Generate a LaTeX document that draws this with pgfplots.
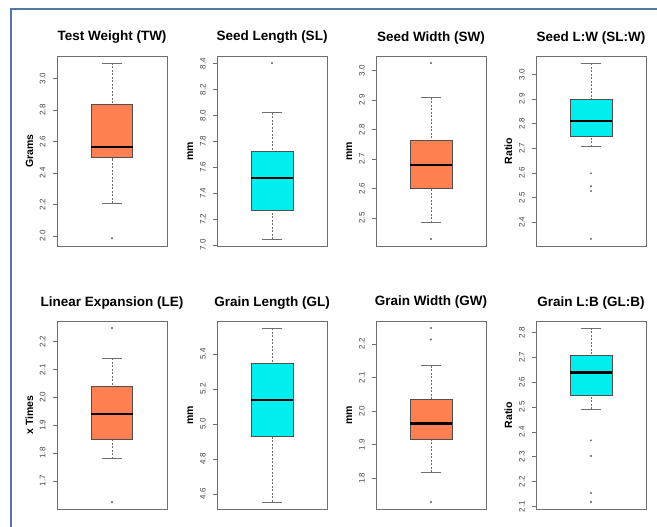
\documentclass[border=0pt]{standalone}
\usepackage{fontspec}
\setmainfont{Liberation Sans}
\usepackage{pgfplots}
\pgfplotsset{compat=1.18}
\usepgfplotslibrary{statistics}
\definecolor{coralbox}{HTML}{FF7F50}
\definecolor{cyanbox}{HTML}{00EEEE}
\definecolor{framegray}{HTML}{6E6E6E}
\definecolor{boxedge}{HTML}{505050}
\definecolor{bordblue}{HTML}{4F77A8}
\definecolor{ticktext}{HTML}{444444}

\pgfplotsset{
  panel/.style={
    scale only axis, width=110pt, height=190pt,
    xmin=0.5, xmax=1.5, xtick=\empty,
    axis line style={framegray, line width=0.9pt},
    tick align=outside, major tick length=4pt, ytick pos=left,
    ytick style={framegray, line width=0.7pt},
    /pgf/number format/assume math mode=true,
    yticklabel style={rotate=90, anchor=base, inner sep=0pt,
      font=\fontsize{8}{9}\selectfont, text=ticktext,
      /pgf/number format/fixed, /pgf/number format/fixed zerofill,
      /pgf/number format/precision=1},
    yticklabel shift=7.5pt,
    title style={at={(axis description cs:0.5,1)}, anchor=base, yshift=9pt,
      font=\bfseries\fontsize{13.5}{15}\selectfont},
    ylabel style={at={(axis description cs:-0.218,0.5)}, anchor=base,
      font=\bfseries\fontsize{10.5}{12}\selectfont},
  },
  bx/.style={
    framegray, mark=*, mark size=0.8pt, mark options={fill=framegray, draw=framegray},
    boxplot/draw direction=y,
    boxplot/draw position=1, boxplot/box extend=0.38, boxplot/whisker extend=0.19,
    boxplot/every box/.style={draw=boxedge, fill=#1, line width=0.8pt},
    boxplot/every median/.style={draw=black, line width=2.3pt},
    boxplot/every whisker/.style={draw=framegray, line width=0.75pt},
    boxplot/draw/lower whisker/.code={%
      \draw[/pgfplots/boxplot/every whisker/.try, dash pattern=on 2pt off 1.5pt]
        (boxplot box cs:\pgfplotsboxplotvalue{lower whisker},0.5) --
        (boxplot box cs:\pgfplotsboxplotvalue{lower quartile},0.5);
      \draw[/pgfplots/boxplot/every whisker/.try]
        (boxplot whisker cs:\pgfplotsboxplotvalue{lower whisker},0) --
        (boxplot whisker cs:\pgfplotsboxplotvalue{lower whisker},1);
    },
    boxplot/draw/upper whisker/.code={%
      \draw[/pgfplots/boxplot/every whisker/.try, dash pattern=on 2pt off 1.5pt]
        (boxplot box cs:\pgfplotsboxplotvalue{upper whisker},0.5) --
        (boxplot box cs:\pgfplotsboxplotvalue{upper quartile},0.5);
      \draw[/pgfplots/boxplot/every whisker/.try]
        (boxplot whisker cs:\pgfplotsboxplotvalue{upper whisker},0) --
        (boxplot whisker cs:\pgfplotsboxplotvalue{upper whisker},1);
    },
  },
}

\begin{document}
\begin{tikzpicture}[x=1pt,y=1pt]
\useasboundingbox[fill=white] (0,0) rectangle (657,-527);
\draw[bordblue, line width=2pt] (11,-527) -- (11,-9) -- (657,-9);

% Row 1
\begin{axis}[panel, at={(57pt,-246pt)}, anchor=south west,
  ymin=1.936, ymax=3.144, ytick={2.0,2.2,...,3.01},
  title={Test Weight (TW)}, ylabel={Grams}]
\addplot[bx=coralbox, boxplot prepared={lower whisker=2.208, lower quartile=2.498,
  median=2.566, upper quartile=2.839, upper whisker=3.100}]
  table[row sep=\\, y index=0] {v\\ 1.985\\};
\end{axis}

\begin{axis}[panel, at={(217pt,-246pt)}, anchor=south west,
  ymin=6.993, ymax=8.459, ytick={7.0,7.2,...,8.41},
  title={Seed Length (SL)}, ylabel={mm}]
\addplot[bx=cyanbox, boxplot prepared={lower whisker=7.047, lower quartile=7.268,
  median=7.518, upper quartile=7.722, upper whisker=8.021}]
  table[row sep=\\, y index=0] {v\\ 8.405\\};
\end{axis}

\begin{axis}[panel, at={(376pt,-246pt)}, anchor=south west,
  ymin=2.405, ymax=3.049, ytick={2.5,2.6,...,3.01},
  title={Seed Width (SW)}, ylabel={mm}]
\addplot[bx=coralbox, boxplot prepared={lower whisker=2.484, lower quartile=2.601,
  median=2.679, upper quartile=2.762, upper whisker=2.908}]
  table[row sep=\\, y index=0] {v\\ 3.025\\ 2.429\\};
\end{axis}

\begin{axis}[panel, at={(536pt,-246pt)}, anchor=south west,
  ymin=2.303, ymax=3.075, ytick={2.4,2.5,...,3.01},
  title={Seed L:W (SL:W)}, ylabel={Ratio}]
\addplot[bx=cyanbox, boxplot prepared={lower whisker=2.706, lower quartile=2.748,
  median=2.810, upper quartile=2.897, upper whisker=3.046}]
  table[row sep=\\, y index=0] {v\\ 2.598\\ 2.546\\ 2.526\\ 2.332\\};
\end{axis}

% Row 2
\begin{axis}[panel, height=188pt, at={(57pt,-509pt)}, anchor=south west,
  ymin=1.599, ymax=2.274, ytick={1.7,1.8,...,2.21},
  title={Linear Expansion (LE)}, ylabel={x Times}]
\addplot[bx=coralbox, boxplot prepared={lower whisker=1.780, lower quartile=1.850,
  median=1.941, upper quartile=2.038, upper whisker=2.140}]
  table[row sep=\\, y index=0] {v\\ 2.249\\ 1.624\\};
\end{axis}

\begin{axis}[panel, height=188pt, at={(217pt,-509pt)}, anchor=south west,
  ymin=4.515, ymax=5.588, ytick={4.6,4.8,...,5.41},
  title={Grain Length (GL)}, ylabel={mm}]
\addplot[bx=cyanbox, boxplot prepared={lower whisker=4.555, lower quartile=4.931,
  median=5.139, upper quartile=5.347, upper whisker=5.548}]
  coordinates {};
\end{axis}

\begin{axis}[panel, height=188pt, at={(376pt,-509pt)}, anchor=south west,
  ymin=1.709, ymax=2.268, ytick={1.8,1.9,...,2.21},
  title={Grain Width (GW)}, ylabel={mm}]
\addplot[bx=coralbox, boxplot prepared={lower whisker=1.819, lower quartile=1.917,
  median=1.963, upper quartile=2.034, upper whisker=2.135}]
  table[row sep=\\, y index=0] {v\\ 2.247\\ 2.213\\ 1.730\\};
\end{axis}

\begin{axis}[panel, height=188pt, at={(536pt,-509pt)}, anchor=south west,
  ymin=2.090, ymax=2.846, ytick={2.1,2.2,...,2.81},
  title={Grain L:B (GL:B)}, ylabel={Ratio}]
\addplot[bx=cyanbox, boxplot prepared={lower whisker=2.491, lower quartile=2.548,
  median=2.639, upper quartile=2.707, upper whisker=2.818}]
  table[row sep=\\, y index=0] {v\\ 2.366\\ 2.303\\ 2.154\\ 2.118\\};
\end{axis}
\end{tikzpicture}
\end{document}
